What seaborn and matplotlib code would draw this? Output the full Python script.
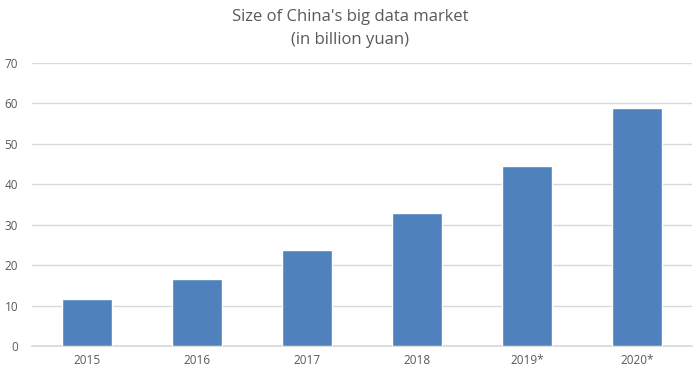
import matplotlib
matplotlib.use("Agg")
import matplotlib.pyplot as plt
import seaborn as sns
import pandas as pd

# Data
years = ["2015", "2016", "2017", "2018", "2019*", "2020*"]
market_size = [11.5, 16.6, 23.6, 32.9, 44.4, 58.8]

df = pd.DataFrame({"Year": years, "Size": market_size})

sns.set_theme(style="white")
plt.rcParams["font.family"] = ["Open Sans", "DejaVu Sans"]

fig = plt.figure(figsize=(7, 3.75), dpi=100)
ax = fig.add_axes([32 / 700, 1 - 346 / 375, 660 / 700, (346 - 62.7) / 375])

sns.barplot(data=df, x="Year", y="Size", color="#4F81BD", saturation=1,
            width=50 / 110, ax=ax, zorder=3)

ax.set_ylim(0, 70)
ax.set_xlim(-0.5, len(years) - 0.5)
ax.set_yticks(range(0, 71, 10))
ax.yaxis.grid(True, color="#D9D9D9", linewidth=1, zorder=0)
ax.set_axisbelow(True)
for s in ["top", "right", "left"]:
    ax.spines[s].set_visible(False)
ax.spines["bottom"].set_color("#D9D9D9")
ax.tick_params(axis="both", length=0, labelcolor="#595959")
ax.tick_params(axis="y", pad=10, labelsize=8.5)
ax.tick_params(axis="x", pad=6, labelsize=8.5)
ax.set_xlabel("")
ax.set_ylabel("")

fig.text(0.5, 1 - 17 / 375, "Size of China's big data market", ha="center", va="center",
         fontsize=12, color="#595959")
fig.text(0.5, 1 - 40 / 375, "(in billion yuan)", ha="center", va="center",
         fontsize=12, color="#595959")

fig.savefig("out.png", dpi=100)
